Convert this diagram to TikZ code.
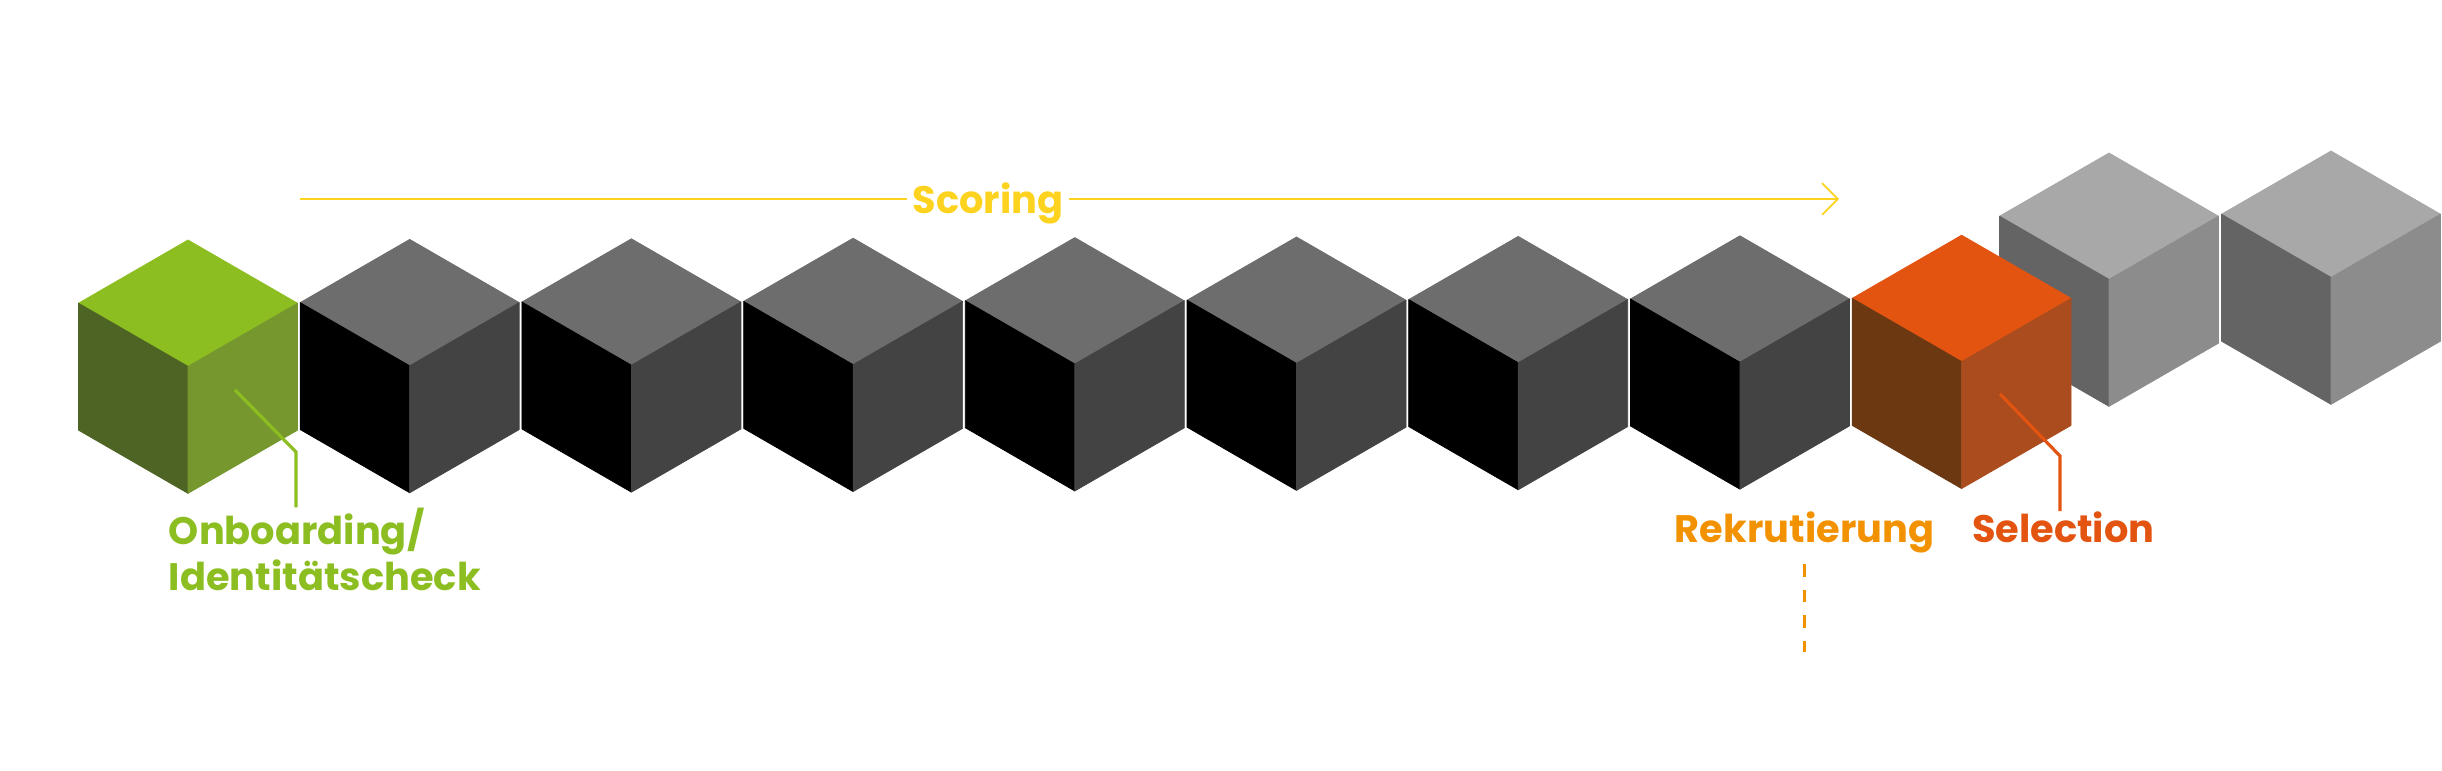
\documentclass[tikz,border=0pt]{standalone}
\usepackage{fontspec}
\setmainfont{Poppins}
\usetikzlibrary{arrows.meta}

\definecolor{onbgreen}{HTML}{8CBE22}
\definecolor{greenleft}{HTML}{4E6424}
\definecolor{greenright}{HTML}{76972D}
\definecolor{darktop}{HTML}{6D6D6D}
\definecolor{darkleft}{HTML}{000000}
\definecolor{darkright}{HTML}{434343}
\definecolor{selred}{HTML}{E35411}
\definecolor{orangeleft}{HTML}{6B3812}
\definecolor{orangeright}{HTML}{AA4C1D}
\definecolor{greytop}{HTML}{A8A8A8}
\definecolor{greyleft}{HTML}{646464}
\definecolor{greyright}{HTML}{8C8C8C}
\definecolor{rekorange}{HTML}{F39200}
\definecolor{scoreyellow}{HTML}{FDD31F}

% Würfel: Spitze oben bei (#1,#2), Farben oben/links/rechts
\newcommand{\isocube}[5]{%
  \begin{scope}[shift={(#1,#2)}]
    \filldraw[cubeface, fill=#3, draw=#3] (0,0) -- (109.5,63.2) -- (0,126.4) -- (-109.5,63.2) -- cycle;
    \filldraw[cubeface, fill=#4, draw=#4] (-109.5,63.2) -- (0,126.4) -- (0,253.4) -- (-109.5,190.2) -- cycle;
    \filldraw[cubeface, fill=#5, draw=#5] (109.5,63.2) -- (0,126.4) -- (0,253.4) -- (109.5,190.2) -- cycle;
  \end{scope}}

\begin{document}
\begin{tikzpicture}[x=0.01cm, y=-0.01cm,
    cubeface/.style={line width=0.2pt, line join=round},
    tagtext/.style={font=\fontsize{10.9}{13.1}\selectfont\bfseries, inner sep=1.5pt},
    leader/.style={line width=0.9pt, shorten >=-1.4pt},
    scoreline/.style={line width=0.5pt, scoreyellow}]
  \useasboundingbox (0,0) rectangle (2442,771);

  % ==================== Würfel ====================
  % --- graue Würfel (hinten) ---
  \isocube{2109}{153}{greytop}{greyleft}{greyright}
  \isocube{2331}{151}{greytop}{greyleft}{greyright}

  % --- grüner Würfel ---
  \isocube{188}{240}{onbgreen}{greenleft}{greenright}

  % --- dunkle Würfel ---
  \foreach \i in {1,...,7}{
    \pgfmathsetmacro{\cx}{188+221.7*\i}
    \pgfmathsetmacro{\ty}{240-0.6*\i}
    \isocube{\cx}{\ty}{darktop}{darkleft}{darkright}
  }

  % --- oranger Würfel ---
  \isocube{1961.6}{235.2}{selred}{orangeleft}{orangeright}

  % ==================== Scoring ====================
  \coordinate (scorestart) at (300,199);
  \coordinate (scoreend) at (1839,199);
  \node[tagtext, text=scoreyellow, anchor=base] (score) at (988,214) {Scoring};
  \draw[scoreline] (scorestart) -- (scorestart -| score.west);
  \draw[scoreline, -{Straight Barb[length=4.5pt, width=9pt]}] (scorestart -| score.east) -- (scoreend);

  % ==================== Beschriftungen ====================
  % --- Onboarding (base = letzte Zeile) ---
  \node[tagtext, text=onbgreen, anchor=base west, align=left] (onb) at (163,591) {Onboarding/\\Identitätscheck};
  \coordinate (onbpin) at (235,390);
  \coordinate (onbknee) at (296,452);
  \draw[leader, onbgreen] (onbpin) -- (onbknee) -- (onbknee |- onb.north);

  % --- Rekrutierung ---
  \node[tagtext, text=rekorange, anchor=base west] (rek) at (1669,543) {Rekrutierung};
  \coordinate (rekend) at (1803,652);
  \draw[rekorange, line width=0.7pt, dash pattern={on 0.125cm off 0.13cm}, shorten <=1.4pt] (rek.south) -- (rek.south |- rekend);

  % --- Selection ---
  \node[tagtext, text=selred, anchor=base west] (sel) at (1966,543) {Selection};
  \coordinate (selpin) at (2000,394);
  \coordinate (selknee) at (2060,456);
  \draw[leader, selred] (selpin) -- (selknee) -- (selknee |- sel.north);
\end{tikzpicture}
\end{document}
